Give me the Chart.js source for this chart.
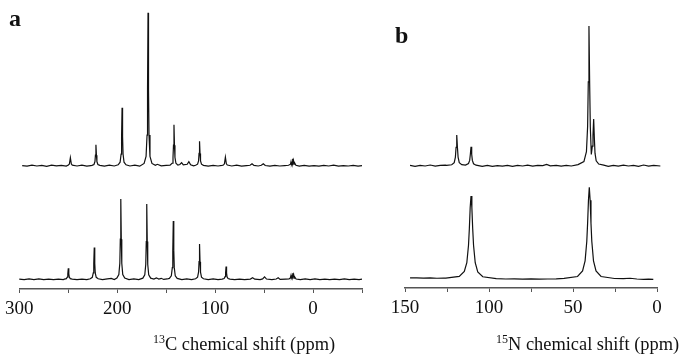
<!DOCTYPE html>
<html>
<head>
<meta charset="utf-8">
<script src="https://cdn.jsdelivr.net/npm/chart.js@4.4.1/dist/chart.umd.min.js"></script>
<style>
  html, body { margin: 0; padding: 0; background: #fff; }
  #page { position: relative; width: 681px; height: 357px; overflow: hidden; font-family: "Liberation Serif", "Times New Roman", serif; color: #111; }
  canvas { position: absolute; top: 0; }
  #chartA { left: 0; }
  #chartB { left: 380px; }
  .panel { position: absolute; font-weight: bold; font-size: 24px; line-height: 24px; }
  .xtitle { position: absolute; font-size: 18.4px; line-height: 19px; white-space: nowrap; }
  .xtitle span { font-size: 12px; position: relative; top: -7px; }
</style>
</head>
<body>
<div id="page">
  <canvas id="chartA" width="380" height="357"></canvas>
  <canvas id="chartB" width="301" height="357"></canvas>
  <div class="panel" style="left:9px; top:6px;">a</div>
  <div class="panel" style="left:395px; top:23px;">b</div>
  <div class="xtitle" style="left:153px; top:335px;"><span>13</span>C chemical shift (ppm)</div>
  <div class="xtitle" style="left:496px; top:335px;"><span>15</span>N chemical shift (ppm)</div>
</div>
<script>
// spectra as [ppm, intensity], each trace scaled so its tallest peak = 100
const c13Upper = [
  [297, 0.1], [292, -0.3], [287, 0.3], [282, -0.2], [277, 0.2], [272, -0.4], [267, 0.3], [262, -0.1], [257, 0.2], [252, -0.3],
  [249.8, 0.4], [248.8, 1.1], [247.8, 5.2], [246.8, 1.1], [245.8, 0.4],
  [241, -0.2], [236, 0.3], [231, -0.3], [227, 0.1],
  [225.7, 0.2], [223.7, 0.8], [222.7, 2.7], [222.2, 6.9], [221.7, 13.7], [221.2, 6.9], [220.7, 2.7], [219.7, 0.8], [217.7, 0.2],
  [213, -0.3], [208, 0.3], [203, -0.2],
  [199, 0.6], [197, 2.3], [196, 7.6], [195.5, 19], [195, 37.9], [194.5, 19], [194, 7.6], [193, 2.3], [191, 0.6],
  [187, -0.2], [182, 0.3], [177, -0.3],
  [172.5, 1.5], [170.5, 6], [169.5, 20], [169, 50], [168.5, 100], [168, 50], [167.5, 20], [166.5, 6], [164.5, 1.5],
  [161, 0.2], [159, 0.9], [155, -0.1], [150, 0.2],
  [146, 0.4], [144, 1.6], [143, 5.4], [142.5, 13.4], [142, 26.8], [141.5, 13.4], [141, 5.4], [140, 1.6], [138, 0.4],
  [136, 0.8], [134.2, 2], [132.5, 0.5], [128.5, 0.9], [126.8, 2.6], [125, 0.6],
  [122, -0.1], [119.9, 0.25], [117.9, 1], [116.9, 3.2], [116.4, 8], [115.9, 16], [115.4, 8], [114.9, 3.2], [113.9, 1], [111.9, 0.25],
  [107, -0.3], [102, 0.2], [97, -0.2], [93, 0.2],
  [91.5, 0.4], [90.5, 1.2], [89.5, 5.6], [88.5, 1.2], [87.5, 0.4],
  [83, -0.2], [78, 0.3], [73, -0.3], [68, 0.1], [64.3, 0.3], [62.3, 1.3], [60.3, 0.2], [56, -0.2],
  [52.8, 0.3], [50.8, 1.3], [48.8, 0.1], [44, -0.3], [39, 0.2], [34, -0.2], [29, 0.1], [25, 0.3],
  [23, 1], [22.5, 2.5], [22, 0.8], [21.3, 2], [21, 4.6], [20.6, 1.5], [20, 3.5], [19.4, 1], [18.5, 1.5], [17.5, 0.3],
  [14, -0.3], [9, 0.2], [4, -0.3], [-1, 0.1], [-6, -0.3], [-11, 0.2], [-16, -0.2], [-21, 0.3], [-26, -0.3],
  [-31, 0.1], [-36, -0.2], [-41, 0.2], [-46, -0.3], [-50, 0]
];

const c13Lower = [
  [300, 0.2], [295, -0.5], [290, 0.4], [285, -0.3], [280, 0.6], [275, -0.4], [270, 0.3], [265, -0.5], [260, 0.2], [255, -0.3],
  [253.9, 0.2], [251.9, 0.8], [250.9, 2.8], [250.4, 6.9], [249.9, 13.8], [249.4, 6.9], [248.9, 2.8], [247.9, 0.8], [245.9, 0.2],
  [241, -0.4], [236, 0.3], [231, -0.5], [227.4, 0.6],
  [225.4, 2.4], [224.4, 7.9], [223.9, 19.8], [223.4, 39.5], [222.9, 19.8], [222.4, 7.9], [221.4, 2.4], [219.4, 0.6],
  [215, -0.4], [210, 0.5], [206, 1.2], [203, -0.3],
  [200.3, 1.5], [198.3, 6], [197.3, 20], [196.8, 50], [196.3, 100], [195.8, 50], [195.3, 20], [194.3, 6], [192.3, 1.5],
  [188, -0.3], [183, 0.5], [178, -0.4], [173.8, 1.4],
  [171.8, 5.6], [170.8, 18.8], [170.3, 46.9], [169.8, 93.8], [169.3, 46.9], [168.8, 18.8], [167.8, 5.6], [165.8, 1.4],
  [162.5, 0.3], [160, 1.8], [157.5, 0.2], [155, 1.2], [152.5, -0.2], [149, 0.4],
  [146.7, 1.1], [144.7, 4.4], [143.7, 14.5], [143.2, 36], [142.7, 72.5], [142.2, 36], [141.7, 14.5], [140.7, 4.4], [138.7, 1.1],
  [134, -0.3], [129, 0.4], [124, -0.4], [119.9, 0.7],
  [117.9, 2.6], [116.9, 8.8], [116.4, 21.9], [115.9, 43.8], [115.4, 21.9], [114.9, 8.8], [113.9, 2.6], [111.9, 0.7],
  [107, -0.3], [102, 0.4], [97, -0.5], [92.8, 0.3],
  [90.8, 1], [89.8, 3.2], [89.3, 7.9], [88.8, 15.8], [88.3, 7.9], [87.8, 3.2], [86.8, 1], [84.8, 0.3],
  [80, -0.4], [75, 0.3], [70, -0.5], [64, 0.3], [61.7, 1.9], [59.5, 0.1], [54, -0.3], [51.5, 0.5], [49.5, 3.1], [47.5, 0.3],
  [42, -0.4], [37.6, 0.3], [35.6, 1.9], [33.6, -0.1], [28, 0.3], [24.5, 0.6],
  [23.2, 1.5], [22.5, 5], [22, 1.8], [21.4, 3.5], [21, 7.5], [20.5, 2.5], [19.8, 6], [19.2, 1.5], [18.5, 2.5], [17.3, 0.3],
  [13, -0.5], [8, 0.4], [3, -0.3], [-2, 0.5], [-7, -0.4], [-12, 0.2], [-17, -0.5], [-22, 0.3], [-27, -0.4],
  [-32, 0.4], [-37, -0.3], [-42, 0.2], [-47, -0.4], [-50, 0.1]
];

const n15Upper = [
  [147, 0.2], [144, -0.4], [141, 0.3], [138, -0.2], [135, 0.5], [132, -0.3], [129, 0.2], [126, 0.4],
  [125.2, 0.2], [122.2, 0.7], [120.7, 2.2], [120, 6.2], [119.6, 13.2], [119.2, 22], [118.8, 13.2], [118.4, 6.2], [117.7, 2.2],
  [116.2, 0.8], [114, 0.5], [112.2, 1.6], [111.5, 3.8], [111.1, 8.2], [110.7, 13.6], [110.3, 8.2], [109.9, 3.8], [109.2, 1.4], [107.7, 0.4],
  [104, -0.5], [101, 0.2], [98, -0.4], [95, 0.1], [92, -0.3], [89, 0.3], [86, -0.4], [83, 0.2], [80, -0.2], [77, 0.4],
  [74, -0.3], [71, 0.2], [68, 0.1], [65.7, 0.9], [63.5, -0.1], [60, 0.3], [57, -0.3], [54, 0.2], [51, -0.2], [47, 0.8],
  [43.5, 3], [42, 10], [41.3, 28], [40.9, 60], [40.5, 100], [40.1, 60], [39.7, 28], [39.1, 8], [38.5, 14], [38.1, 22],
  [37.7, 33.4], [37.3, 20], [36.9, 9], [36.2, 3.5], [34.7, 1.2], [31.7, 0.4],
  [29, -0.4], [26, 0.3], [23, -0.3], [20, 0.4], [17, -0.2], [14, 0.3], [11, -0.4], [8, 0.5], [5, -0.3], [2, 0.2], [-2, -0.2]
];

const n15Lower = [
  [147, 1.4], [143, 1.6], [139, 1.2], [135, 1.5], [131, 1.1], [127, 1.3],
  [125.7, 1.2], [117.7, 3.2], [114.7, 8.5], [113.2, 18], [112.2, 37], [111.7, 55], [111.2, 78], [110.7, 90.5],
  [110.2, 78], [109.7, 55], [109.2, 37], [108.2, 18], [106.7, 8.1], [103.7, 2.7], [95.7, 0.6],
  [90, 0.3], [85, 0.5], [80, 0.2], [75, 0.4], [70, 0.2], [65, 0.3], [60, 0.4],
  [55.3, 0.9], [47.3, 3], [44.3, 9], [42.8, 20], [41.8, 41], [41.3, 61], [40.8, 86], [40.3, 100],
  [39.8, 86], [39.3, 61], [38.8, 41], [37.8, 20], [36.3, 9], [33.3, 3], [25.3, 0.8],
  [20, 0.6], [16, 1.1], [12, 0.3], [8, -0.1], [5, 0.1], [2.2, -0.2]
];

// labelled ticks
const c13Labels = [300, 200, 100, 0];
const n15Labels = [150, 100, 50, 0];

const ink = '#111';
const serif = '"Liberation Serif", "Times New Roman", serif';

function trace(data, axis) {
  return {
    data: data,
    yAxisID: axis,
    borderColor: ink,
    borderWidth: 1.2,
    pointRadius: 0,
    tension: 0,
    fill: false,
    clip: false
  };
}

function xAxis(min, max, step, labels, height) {
  return {
    type: 'linear',
    reverse: true,
    min: min,
    max: max,
    afterFit: (scale) => { scale.height = height; },
    border: { display: true, color: '#555', width: 1.5 },
    grid: { drawOnChartArea: false, drawTicks: true, tickLength: 4, tickWidth: 1, color: '#555' },
    ticks: {
      stepSize: step,
      autoSkip: false,
      maxRotation: 0,
      padding: 5,
      color: '#111',
      font: { family: serif, size: 19 },
      callback: (v) => labels.includes(v) ? String(v) : ''
    }
  };
}

function makeChart(id, upper, lower, x, upperRange, lowerRange, pad) {
  new Chart(document.getElementById(id), {
    type: 'line',
    data: { datasets: [trace(upper, 'yUp'), trace(lower, 'yLow')] },
    options: {
      responsive: false,
      animation: false,
      events: [],
      layout: { padding: pad },
      plugins: { legend: { display: false }, tooltip: { enabled: false } },
      scales: {
        x: x,
        yUp: { display: false, min: upperRange[0], max: upperRange[1] },
        yLow: { display: false, min: lowerRange[0], max: lowerRange[1] }
      }
    }
  });
}

makeChart('chartA', c13Upper, c13Lower,
  xAxis(-50, 300, 50, c13Labels, 68),
  [-80.6, 108.3], [-12.1, 347.8],
  { left: 18, right: 18, top: 0, bottom: 0 });

makeChart('chartB', n15Upper, n15Lower,
  xAxis(0, 150, 25, n15Labels, 69),
  [-87.5, 118.6], [-9.5, 303.6],
  { left: 25, right: 24, top: 0, bottom: 0 });
</script>
</body>
</html>
